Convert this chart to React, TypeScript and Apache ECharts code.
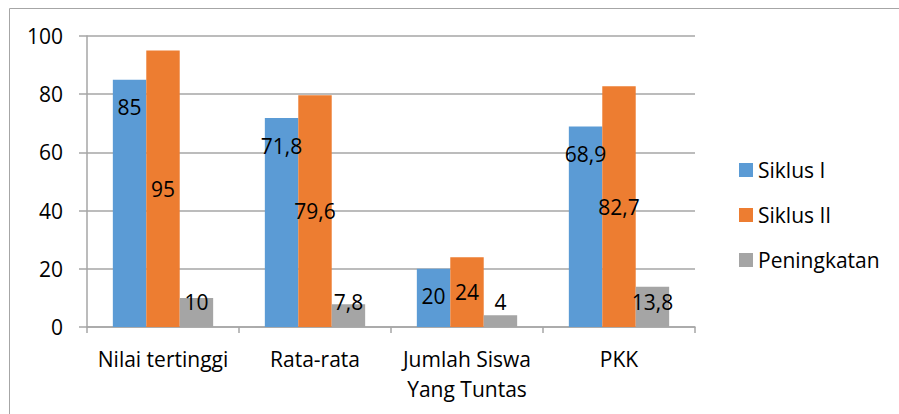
import React, { useEffect, useRef } from "react";
import * as echarts from "echarts";

const categories = ["Nilai tertinggi", "Rata-rata", "Jumlah Siswa\nYang Tuntas", "PKK"];
const siklus1 = [85, 71.8, 20, 68.9];
const siklus2 = [95, 79.6, 24, 82.7];
const peningkatan = [10, 7.8, 4, 13.8];
const yTicks = { min: 0, max: 100, interval: 20 };

const FONT = "'Open Sans', 'Noto Sans', sans-serif";
const fmt = (p: any) => String(p.value).replace(".", ",");

export default function App() {
  const ref = useRef<HTMLDivElement>(null);
  useEffect(() => {
    document.body.style.margin = "0";
    const chart = echarts.init(ref.current!, null, { renderer: "svg" });
    const labelBase = { show: true, color: "#000", fontSize: 21, fontFamily: FONT, formatter: fmt };
    chart.setOption({
      animation: false,
      backgroundColor: "#fff",
      textStyle: { fontFamily: FONT },
      graphic: [
        {
          type: "rect",
          shape: { x: 9.5, y: 8.5, width: 900, height: 420 },
          style: { fill: "none", stroke: "#a6a6a6", lineWidth: 1 },
          silent: true,
        },
      ],
      grid: { left: 87, right: 204, top: 36, bottom: 87, containLabel: false },
      legend: {
        orient: "vertical",
        left: 734,
        top: 153,
        itemWidth: 14,
        itemHeight: 14,
        itemGap: 21,
        icon: "rect",
        textStyle: { fontSize: 21, fontFamily: FONT, color: "#000", lineHeight: 24 },
        data: ["Siklus I", "Siklus II", "Peningkatan"],
      },
      xAxis: {
        type: "category",
        data: categories,
        boundaryGap: true,
        axisLine: { show: true, lineStyle: { color: "#a6a6a6", width: 1.5 } },
        axisTick: { show: true, length: 6, alignWithLabel: false, lineStyle: { color: "#a6a6a6", width: 1.5 } },
        axisLabel: { fontSize: 21, fontFamily: FONT, color: "#000", margin: 17, lineHeight: 30, interval: 0 },
      },
      yAxis: {
        type: "value",
        min: yTicks.min,
        max: yTicks.max,
        interval: yTicks.interval,
        axisLine: { show: true, lineStyle: { color: "#a6a6a6", width: 1.5 } },
        axisTick: { show: true, length: 8, lineStyle: { color: "#a6a6a6", width: 1.5 } },
        splitLine: { show: true, lineStyle: { color: "#a6a6a6", width: 1.5 } },
        axisLabel: { fontSize: 21, fontFamily: FONT, color: "#000", margin: 24 },
      },
      series: [
        {
          name: "Siklus I",
          type: "bar",
          data: siklus1,
          itemStyle: { color: "#5b9bd5" },
          barGap: "0%",
          barCategoryGap: "34%",
          label: { ...labelBase, position: "insideTop", distance: 17 },
        },
        {
          name: "Siklus II",
          type: "bar",
          data: siklus2,
          itemStyle: { color: "#ed7d31" },
          barGap: "0%",
          barCategoryGap: "34%",
          label: { ...labelBase, position: "inside" },
        },
        {
          name: "Peningkatan",
          type: "bar",
          data: peningkatan,
          itemStyle: { color: "#a5a5a5" },
          barGap: "0%",
          barCategoryGap: "34%",
          label: { ...labelBase, position: "insideBottom", distance: 15 },
        },
      ],
    });
    return () => chart.dispose();
  }, []);
  return <div ref={ref} style={{ width: 899, height: 414 }} />;
}
